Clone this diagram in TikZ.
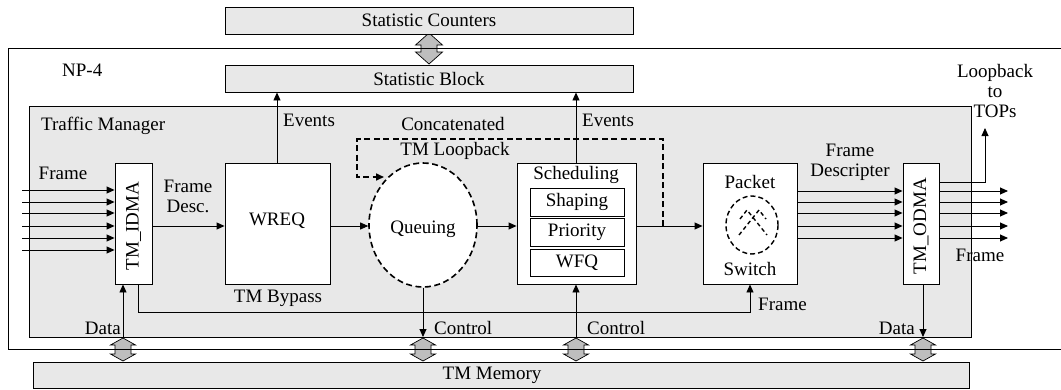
\documentclass[tikz,border=0pt]{standalone}
\usepackage{fontspec}
\setmainfont{Liberation Serif}
\usetikzlibrary{arrows.meta,shapes.geometric}
\definecolor{lgray}{RGB}{232,232,232}
\definecolor{agray}{RGB}{190,190,190}
\newcommand\memarrow[6]{%
  \filldraw[fill=agray, line width=0.7pt] (#1,#2) -- (#1+#5,#2+#4) -- (#1+#6,#2+#4) -- (#1+#6,#3-#4) -- (#1+#5,#3-#4) -- (#1,#3) -- (#1-#5,#3-#4) -- (#1-#6,#3-#4) -- (#1-#6,#2+#4) -- (#1-#5,#2+#4) -- cycle;}
\begin{document}
\begin{tikzpicture}[x=1pt,y=-1pt,
  font=\fontsize{19}{20}\selectfont,
  box/.style={draw, line width=0.9pt, fill=white, inner sep=0pt},
  gbox/.style={box, fill=lgray},
  arr/.style={-{Triangle[length=8pt,width=7pt]}, line width=0.9pt},
  plain/.style={line width=0.9pt},
  lbl/.style={inner sep=0pt, align=center},
  dsh/.style={line width=1.6pt, dash pattern=on 6pt off 3.5pt}]
\useasboundingbox (0,0) rectangle (1061,389);
% memory / stats double arrows
\memarrow{429}{33}{64}{12}{13.5}{8}
\memarrow{123}{338}{361}{7}{12.5}{8}
\memarrow{423}{338}{361}{7}{12.5}{8}
\memarrow{576}{338}{361}{7}{12.5}{8}
\memarrow{923}{338}{361}{7}{12.5}{8}
% frames
\node[draw, line width=0.9pt, inner sep=0pt, minimum width=1056pt, minimum height=301pt] (np4) at (536,198.5) {};
\node[gbox, minimum width=942pt, minimum height=231pt] (tm) at (500,221.5) {};
\node[gbox, minimum width=408pt, minimum height=27pt] (statc) at (429,20.5) {Statistic Counters};
\node[gbox, minimum width=408pt, minimum height=27pt] (statb) at (429,78.5) {Statistic Block};
\node[gbox, minimum width=936pt, minimum height=26pt] (tmmem) at (501,375) {};
\node[lbl] (tmmemlbl) at (492,375) {TM Memory};
\node[lbl, anchor=west] (np4lbl) at (62,70) {NP-4};
\node[lbl, anchor=west] (tmlbl) at (41,126) {Traffic Manager};
% blocks
\node[box, minimum width=37pt, minimum height=121pt] (idma) at (133.5,223.5) {};
\node[lbl, rotate=90] (idmalbl) at (133.5,226) {TM\_IDMA};
\node[box, minimum width=105pt, minimum height=121pt] (wreq) at (277.5,223.5) {};
\node[lbl] (wreqlbl) at (277,221) {WREQ};
\node[box, dsh, ellipse, minimum width=108pt, minimum height=124pt] (queue) at (423,225) {};
\node[lbl] (queuelbl) at (423,229) {Queuing};
\node[box, minimum width=119pt, minimum height=121pt] (sched) at (576.5,223.5) {};
\node[lbl] (schedlbl) at (576,175) {Scheduling};
\node[box, minimum width=94pt, minimum height=28pt] (shaping) at (577,202) {Shaping};
\node[box, minimum width=94pt, minimum height=28pt] (priority) at (577,232) {Priority};
\node[box, minimum width=94pt, minimum height=27pt] (wfq) at (577,262.5) {WFQ};
\node[box, minimum width=94pt, minimum height=121pt] (psw) at (750,223.5) {};
\node[lbl] (packetlbl) at (750,182) {Packet};
\node[lbl] (switchlbl) at (750,269) {Switch};
\draw[line width=1.4pt, dash pattern=on 5pt off 3pt] (752,225) ellipse [x radius=26, y radius=29];
\draw[line width=1.4pt, dash pattern=on 4pt off 3pt] (740,219) -- (747,210) -- (767,235);
\draw[line width=1.4pt, dash pattern=on 4pt off 3pt] (739,235) -- (759,210) -- (766,219);
\node[box, minimum width=36pt, minimum height=121pt] (odma) at (921,223.5) {};
\node[lbl, rotate=90] (odmalbl) at (921,226) {TM\_ODMA};
% coordinates
\coordinate (flow) at (0,226);
\foreach \i/\y in {1/190,2/202,3/213,4/226,5/238,6/250}{
  \coordinate (in\i) at (22,\y);
  \draw[arr] (in\i) -- (in\i -| idma.west);
}
\foreach \i/\y in {1/191,2/202,3/213,4/226,5/238}{
  \coordinate (out\i) at (1008,\y);
  \draw[arr] (psw.east |- out\i) -- (odma.west |- out\i);
  \draw[arr] (odma.east |- out\i) -- (out\i);
}
% main flow
\draw[arr] (idma.east |- flow) -- (wreq.west |- flow);
\draw[arr] (wreq.east |- flow) -- (queue.west |- flow);
\draw[arr] (queue.east |- flow) -- (sched.west |- flow);
\draw[arr] (sched.east |- flow) -- (psw.west |- flow);
% events
\draw[arr] (wreq.north -| 277,0) -- (statb.south -| 277,0);
\draw[arr] (sched.north -| 576,0) -- (statb.south -| 576,0);
\node[lbl, anchor=west] (ev1) at (283,120) {Events};
\node[lbl, anchor=west] (ev2) at (582,120) {Events};
% loopback dashed
\coordinate (lbA) at (663,226);
\coordinate (lbB) at (384,177);
\draw[dsh, -{Triangle[length=8pt,width=7pt]}] (lbA) -- (663,139) -- (357,139) -- (357,177) -- (lbB);
\node[lbl] (concat) at (453,124) {Concatenated};
\node[lbl] (tmloop) at (455,151) {TM Loopback};
% loopback to TOPs
\coordinate (tops) at (985,128);
\draw[arr] (odma.east |- 0,182) -| (tops);
\node[lbl] (topslbl) at (995,91) {Loopback\\to\\TOPs};
% bypass
\draw[arr] (idma.south -| 138,0) -- (138,312) -| (psw.south);
\node[lbl] (bypass) at (278,298) {TM Bypass};
\node[lbl, anchor=west] (frpsw) at (758,304) {Frame};
% data / control
\coordinate (m1) at (123,338);
\coordinate (m2) at (423,337);
\coordinate (m3) at (576,338);
\coordinate (m4) at (923,337);
\draw[arr] (m1) -- (idma.south -| m1);
\draw[arr] (queue.south -| m2) -- (m2);
\draw[arr] (m3) -- (sched.south -| m3);
\draw[arr] (odma.south -| m4) -- (m4);
\node[lbl, anchor=east] (data1) at (121,328) {Data};
\node[lbl, anchor=west] (ctl1) at (434,328) {Control};
\node[lbl, anchor=west] (ctl2) at (587,328) {Control};
\node[lbl, anchor=east] (data2) at (915,328) {Data};
% other labels
\node[lbl] (frin) at (63,173) {Frame};
\node[lbl] (frdesc) at (188,196) {Frame\\Desc.};
\node[lbl] (frdescr) at (850,162) {Frame\\Descripter};
\node[lbl] (frout) at (980,255) {Frame};
\end{tikzpicture}
\end{document}
